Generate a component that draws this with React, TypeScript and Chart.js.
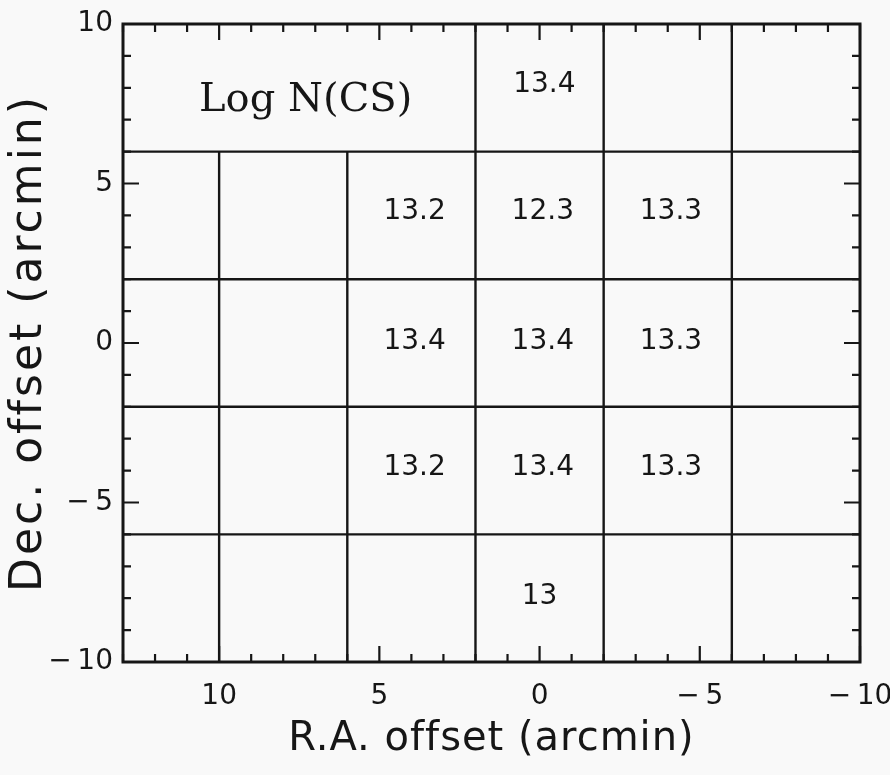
import React, { useEffect, useRef } from "react";
import { Chart, registerables } from "chart.js";

Chart.register(...registerables);

// Axis ranges and tick labels (arcmin)
const raRange = [-10, 13];
const decRange = [-10, 10];
const raTickValues = [10, 5, 0, -5, -10];
const decTickValues = [10, 5, 0, -5, -10];
const raTitle = "R.A. offset (arcmin)";
const decTitle = "Dec. offset (arcmin)";

// Cell boundaries of the map
const rowBoundaries = [6, 2, -2, -6]; // horizontal lines across the full width
const topRowColumnBoundaries = [2, -2, -6]; // vertical lines in the top row (Dec 6..10)
const lowerColumnBoundaries = [10, 6, 2, -2, -6]; // vertical lines in rows Dec -10..6
const topRowDec = [6, 10];
const lowerRowsDec = [-10, 6];

// Cell values: Log N(CS)
const cellRA = [-0.15, 3.9, -0.1, -4.1, 3.9, -0.1, -4.1, 3.9, -0.1, -4.1, 0];
const cellDec = [8.1, 4.1, 4.1, 4.1, 0.05, 0.05, 0.05, -3.9, -3.9, -3.9, -7.95];
const cellLogN = ["13.4", "13.2", "12.3", "13.3", "13.4", "13.4", "13.3", "13.2", "13.4", "13.3", "13"];

const mapTitle = "Log N(CS)";
const mapTitleRA = 7.3;
const mapTitleDec = 7.6;

const INK = "#161616";
const BG = "#f9f9f9";

const fmt = (v: number | string) => String(v).replace("-", "\u2212\u2009");

const framePlugin = {
  id: "framePlugin",
  beforeDraw(chart: any) {
    const { ctx, width, height } = chart;
    ctx.save();
    ctx.fillStyle = BG;
    ctx.fillRect(0, 0, width, height);
    ctx.restore();
  },
  afterDatasetsDraw(chart: any) {
    const { ctx, chartArea: a, scales } = chart;
    const x = scales.x;
    const y = scales.y;
    ctx.save();
    ctx.strokeStyle = INK;
    ctx.lineWidth = 3;
    ctx.strokeRect(a.left, a.top, a.right - a.left, a.bottom - a.top);
    ctx.lineWidth = 2.2;
    ctx.beginPath();
    for (let v = Math.ceil(x.min); v <= Math.floor(x.max); v++) {
      const px = x.getPixelForValue(v);
      const len = v % 5 === 0 ? 16 : 8;
      ctx.moveTo(px, a.bottom);
      ctx.lineTo(px, a.bottom - len);
      ctx.moveTo(px, a.top);
      ctx.lineTo(px, a.top + len);
    }
    for (let v = Math.ceil(y.min); v <= Math.floor(y.max); v++) {
      const py = y.getPixelForValue(v);
      const len = v % 5 === 0 ? 16 : 8;
      ctx.moveTo(a.left, py);
      ctx.lineTo(a.left + len, py);
      ctx.moveTo(a.right, py);
      ctx.lineTo(a.right - len, py);
    }
    ctx.stroke();

    ctx.fillStyle = INK;
    ctx.textAlign = "center";
    ctx.textBaseline = "middle";
    ctx.font = '28px "DejaVu Sans"';
    cellLogN.forEach((t, i) => {
      ctx.fillText(t, x.getPixelForValue(cellRA[i]), y.getPixelForValue(cellDec[i]));
    });
    ctx.font = '40px "DejaVu Serif"';
    ctx.fillText(mapTitle, x.getPixelForValue(mapTitleRA), y.getPixelForValue(mapTitleDec));

    // axis titles (with the wide letter spacing of the original plotting font)
    ctx.font = '40px "DejaVu Sans"';
    (ctx as any).letterSpacing = "1px";
    ctx.fillText(raTitle, (a.left + a.right) / 2, a.bottom + 78);
    ctx.translate(a.left - 93, (a.top + a.bottom) / 2);
    ctx.rotate(-Math.PI / 2);
    ctx.font = '44px "DejaVu Sans"';
    (ctx as any).letterSpacing = "3px";
    ctx.fillText(decTitle, 0, 0);
    ctx.restore();
  },
};

export default function App() {
  const ref = useRef<HTMLCanvasElement | null>(null);

  useEffect(() => {
    document.body.style.margin = "0";
    const lineStyle = {
      showLine: true,
      pointRadius: 0,
      borderColor: INK,
      borderWidth: 2.4,
      fill: false,
    };
    const datasets: any[] = [];
    rowBoundaries.forEach((d) => {
      datasets.push({ ...lineStyle, data: [{ x: raRange[1], y: d }, { x: raRange[0], y: d }] });
    });
    topRowColumnBoundaries.forEach((r) => {
      datasets.push({ ...lineStyle, data: [{ x: r, y: topRowDec[0] }, { x: r, y: topRowDec[1] }] });
    });
    lowerColumnBoundaries.forEach((r) => {
      datasets.push({ ...lineStyle, data: [{ x: r, y: lowerRowsDec[0] }, { x: r, y: lowerRowsDec[1] }] });
    });

    const tickFont = { family: '"DejaVu Sans"', size: 28 };
    const chart = new Chart(ref.current as HTMLCanvasElement, {
      type: "scatter",
      data: { datasets },
      options: {
        animation: false,
        responsive: false,
        events: [],
        layout: { padding: { top: 24, right: 30, bottom: 0, left: 0 } },
        plugins: { legend: { display: false }, tooltip: { enabled: false } },
        scales: {
          x: {
            type: "linear",
            min: raRange[0],
            max: raRange[1],
            reverse: true,
            grid: { display: false, drawTicks: false },
            border: { display: false },
            afterBuildTicks: (scale: any) => {
              scale.ticks = raTickValues.map((value) => ({ value }));
            },
            afterFit: (scale: any) => {
              scale.height = 113;
              scale.paddingLeft = 0;
              scale.paddingRight = 0;
            },
            ticks: {
              color: INK,
              font: tickFont,
              padding: 18,
              maxRotation: 0,
              autoSkip: false,
              callback: (v: any) => fmt(v),
            },
            title: { display: false },
          },
          y: {
            type: "linear",
            min: decRange[0],
            max: decRange[1],
            grid: { display: false, drawTicks: false },
            border: { display: false },
            afterBuildTicks: (scale: any) => {
              scale.ticks = decTickValues.map((value) => ({ value }));
            },
            afterFit: (scale: any) => {
              scale.width = 123;
              scale.paddingTop = 0;
              scale.paddingBottom = 0;
            },
            ticks: {
              color: INK,
              font: tickFont,
              padding: 10,
              autoSkip: false,
              callback: (v: any) => fmt(v),
            },
            title: { display: false },
          },
        },
      },
      plugins: [framePlugin],
    } as any);
    return () => chart.destroy();
  }, []);

  return <canvas ref={ref} width={890} height={775} style={{ display: "block" }} />;
}
